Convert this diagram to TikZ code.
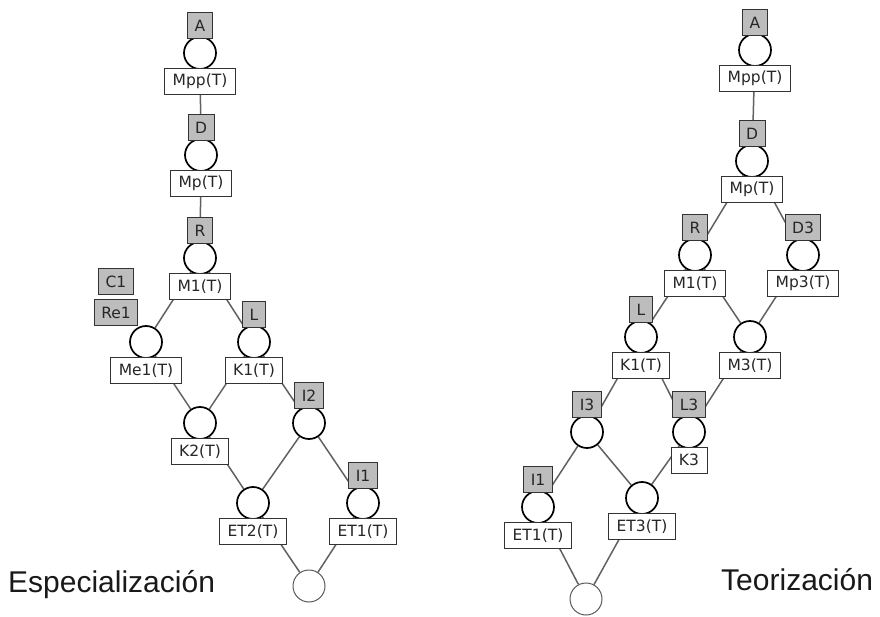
\documentclass[tikz,border=0pt]{standalone}
\usepackage{fontspec}
\setmainfont{DejaVu Sans}
\newfontfamily\titlefont{Liberation Sans}
\usetikzlibrary{positioning,backgrounds}

\tikzset{
  theory/.style = {circle, draw = black, line width = 1.7pt, fill = white,
    minimum size = 32pt, inner sep = 0pt},
  empty/.style = {theory, draw = black!65, line width = 1pt},
  tag/.style = {draw = black!80, line width = 0.9pt, fill = gray!52,
    text = black!85, minimum height = 26pt, inner xsep = 7pt, inner ysep = 0pt,
    font = \fontsize{15.5}{18}\selectfont},
  model/.style = {draw = black!80, line width = 0.9pt, fill = white,
    text = black!85, minimum height = 26pt, inner xsep = 8pt, inner ysep = 0pt,
    font = \fontsize{15.5}{18}\selectfont},
  link/.style = {draw = black!62, line width = 1.5pt},
  title/.style = {anchor = base west, inner sep = 0pt,
    font = \titlefont\fontsize{30}{36}\selectfont, text = black!90},
}

\begin{document}
\begin{tikzpicture}[x = 1pt, y = -1pt]
    \useasboundingbox (0,0) rectangle (880,617);
    % especializacion
    \node[theory] (empp) at (200,53) {};
    \node[tag, above = -3pt of empp] (tempp) {A};
    \node[model, below = -2pt of empp] (lempp) {Mpp(T)};
    \node[theory] (emp) at (201,155) {};
    \node[tag, above = -3pt of emp] (temp) {D};
    \node[model, below = -2pt of emp] (lemp) {Mp(T)};
    \node[theory] (em1) at (200,258) {};
    \node[tag, above = -3pt of em1] (tem1) {R};
    \node[model, below = -2pt of em1] (lem1) {M1(T)};
    \node[theory] (eme1) at (146,342) {};
    \node[tag, above = -1pt of eme1, xshift = -30pt] (teme1) {Re1};
    \node[tag, above = 4pt of teme1] (ceme1) {C1};
    \node[model, below = -2pt of eme1] (leme1) {Me1(T)};
    \node[theory] (ek1) at (254,342) {};
    \node[tag, above = -3pt of ek1] (tek1) {L};
    \node[model, below = -2pt of ek1] (lek1) {K1(T)};
    \node[theory] (ek2) at (200,423) {};
    \node[model, below = -2pt of ek2] (lek2) {K2(T)};
    \node[theory] (ei2) at (309,423) {};
    \node[tag, above = -3pt of ei2] (tei2) {I2};
    \node[theory] (eet2) at (253,503) {};
    \node[model, below = -2pt of eet2] (leet2) {ET2(T)};
    \node[theory] (eet1) at (363,503) {};
    \node[tag, above = -3pt of eet1] (teet1) {I1};
    \node[model, below = -2pt of eet1] (leet1) {ET1(T)};
    \node[empty] (ez) at (309,586) {};
    \node[title] (esp) at (8,592) {Especialización};
    % teorizacion
    \node[theory] (tmpp) at (755,50) {};
    \node[tag, above = -3pt of tmpp] (ttmpp) {A};
    \node[model, below = -2pt of tmpp] (ltmpp) {Mpp(T)};
    \node[theory] (tmp) at (752,161) {};
    \node[tag, above = -3pt of tmp] (ttmp) {D};
    \node[model, below = -2pt of tmp] (ltmp) {Mp(T)};
    \node[theory] (tm1) at (695,255) {};
    \node[tag, above = -3pt of tm1] (ttm1) {R};
    \node[model, below = -2pt of tm1] (ltm1) {M1(T)};
    \node[theory] (tmp3) at (803,255) {};
    \node[tag, above = -3pt of tmp3] (ttmp3) {D3};
    \node[model, below = -2pt of tmp3] (ltmp3) {Mp3(T)};
    \node[theory] (tk1) at (641,337) {};
    \node[tag, above = -3pt of tk1] (ttk1) {L};
    \node[model, below = -2pt of tk1] (ltk1) {K1(T)};
    \node[theory] (tm3) at (750,337) {};
    \node[model, below = -2pt of tm3] (ltm3) {M3(T)};
    \node[theory] (ti3) at (587,432) {};
    \node[tag, above = -3pt of ti3] (tti3) {I3};
    \node[theory] (tk3) at (689,432) {};
    \node[tag, above = -3pt of tk3] (ttk3) {L3};
    \node[model, below = -2pt of tk3] (ltk3) {K3};
    \node[theory] (ti1) at (538,507) {};
    \node[tag, above = -3pt of ti1] (tti1) {I1};
    \node[model, below = -2pt of ti1] (lti1) {ET1(T)};
    \node[theory] (tet3) at (642,498) {};
    \node[model, below = -2pt of tet3] (ltet3) {ET3(T)};
    \node[empty] (tz) at (586,599) {};
    \node[title] (teo) at (721,590) {Teorización};
    \begin{scope}[on background layer]
      \draw[link] (empp) -- (emp) -- (em1);
      \draw[link] (em1) -- (eme1) -- (ek2) -- (eet2) -- (ez);
      \draw[link] (em1) -- (ek1) -- (ek2);
      \draw[link] (ek1) -- (ei2) -- (eet2);
      \draw[link] (ei2) -- (eet1) -- (ez);
      \draw[link] (tmpp) -- (tmp) -- (tm1) -- (tk1) -- (ti3) -- (ti1) -- (tz);
      \draw[link] (tmp) -- (tmp3) -- (tm3) -- (tk3) -- (tet3) -- (tz);
      \draw[link] (tm1) -- (tm3);
      \draw[link] (tk1) -- (tk3);
      \draw[link] (ti3) -- (tet3);
    \end{scope}
\end{tikzpicture}
\end{document}
